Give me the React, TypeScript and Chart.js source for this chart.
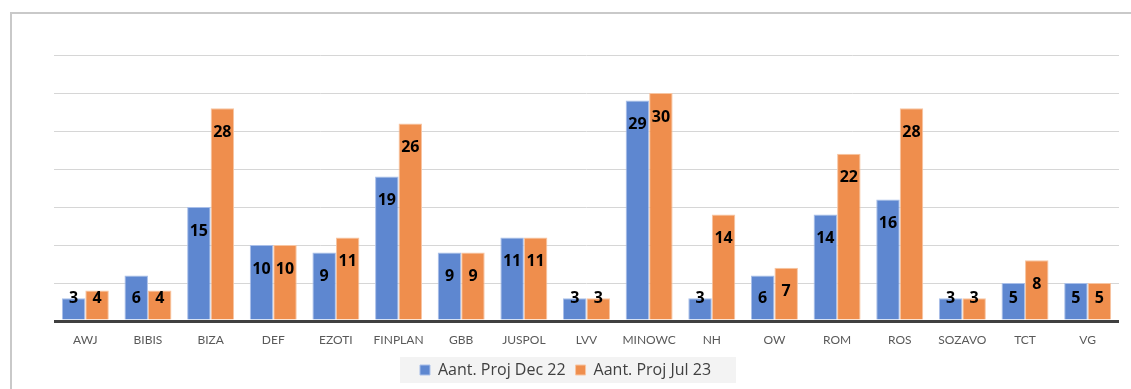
import React, { useEffect, useRef } from "react";
import { Chart, registerables } from "chart.js";

Chart.register(...registerables);

const categories = ["AWJ", "BIBIS", "BIZA", "DEF", "EZOTI", "FINPLAN", "GBB", "JUSPOL", "LVV", "MINOWC", "NH", "OW", "ROM", "ROS", "SOZAVO", "TCT", "VG"];
const dec22 = [3, 6, 15, 10, 9, 19, 9, 11, 3, 29, 3, 6, 14, 16, 3, 5, 5];
const jul23 = [4, 4, 28, 10, 11, 26, 9, 11, 3, 30, 14, 7, 22, 28, 3, 8, 5];
const seriesNames = ["Aant. Proj Dec 22", "Aant. Proj Jul 23"];
const yMin = 0;
const yMax = 35;
const yStep = 5;

const barLabels = {
  id: "barLabels",
  afterDatasetsDraw(chart: any) {
    const ctx = chart.ctx;
    ctx.save();
    ctx.font = "bold 16px 'Open Sans'";
    ctx.fillStyle = "#000000";
    ctx.textAlign = "center";
    ctx.textBaseline = "middle";
    chart.data.datasets.forEach((ds: any, di: number) => {
      const meta = chart.getDatasetMeta(di);
      meta.data.forEach((bar: any, i: number) => {
        const p = bar.getProps(["x", "y", "base"], true);
        const ly = Math.min(p.y + 24, p.base - 21);
        ctx.fillText(String(ds.data[i]), p.x, ly);
      });
    });
    ctx.restore();
  },
};

const legendBg = {
  id: "legendBg",
  beforeDraw(chart: any) {
    const lg = chart.legend;
    const hb = lg && lg.legendHitBoxes;
    if (!hb || !hb.length) return;
    const ctx = chart.ctx;
    const left = Math.min(...hb.map((h: any) => h.left)) - 20;
    const right = Math.max(...hb.map((h: any) => h.left + h.width)) + 25;
    const cy = hb[0].top + hb[0].height / 2;
    ctx.save();
    ctx.fillStyle = "#f3f3f3";
    ctx.fillRect(left, cy - 13, right - left, 26);
    ctx.restore();
  },
};

export default function App() {
  const ref = useRef<HTMLCanvasElement | null>(null);

  useEffect(() => {
    if (!ref.current) return;
    const chart = new Chart(ref.current, {
      type: "bar",
      data: {
        labels: categories,
        datasets: [
          {
            label: seriesNames[0],
            data: dec22,
            backgroundColor: "#5e87d0",
            borderColor: "#a9bfe9",
            borderWidth: 1,
            categoryPercentage: 0.75,
            barPercentage: 1,
          },
          {
            label: seriesNames[1],
            data: jul23,
            backgroundColor: "#ef8e4d",
            borderColor: "#f7c5a2",
            borderWidth: 1,
            categoryPercentage: 0.75,
            barPercentage: 1,
          },
        ],
      },
      options: {
        responsive: false,
        animation: false,
        devicePixelRatio: 1,
        layout: { padding: { left: 12, right: 12, top: 55, bottom: 1 } },
        plugins: {
          tooltip: { enabled: false },
          legend: {
            position: "bottom",
            labels: {
              boxWidth: 10,
              boxHeight: 10,
              padding: 10,
              color: "#404040",
              font: { family: "'Open Sans'", size: 16 },
            },
          },
        },
        scales: {
          x: {
            clip: false,
            grid: { display: false },
            border: { display: false },
            ticks: {
              color: "#595959",
              padding: 4,
              font: { family: "Lato", size: 12 },
              maxRotation: 0,
              autoSkip: false,
            },
            afterFit: (s: any) => {
              s.height = 31;
            },
          },
          y: {
            min: yMin,
            max: yMax,
            ticks: { display: false, stepSize: yStep },
            border: { display: false },
            grid: {
              drawTicks: false,
              color: (c: any) => (c.tick && c.tick.value === 0 ? "#404040" : "#d6d6d6"),
              lineWidth: (c: any) => (c.tick && c.tick.value === 0 ? 3 : 1),
            },
            afterFit: (s: any) => {
              s.width = 42;
            },
          },
        },
      } as any,
      plugins: [legendBg, barLabels],
    });
    return () => chart.destroy();
  }, []);

  return (
    <div style={{ position: "fixed", left: 0, top: 0, width: 1131, height: 389, background: "#ffffff", overflow: "hidden" }}>
      <div style={{ position: "absolute", left: 10, top: 12, width: 1140, height: 400, border: "2px solid #c9c9c9", boxSizing: "border-box" }} />
      <canvas ref={ref} width={1131} height={389} style={{ position: "absolute", left: 0, top: 0, width: 1131, height: 389 }} />
    </div>
  );
}
